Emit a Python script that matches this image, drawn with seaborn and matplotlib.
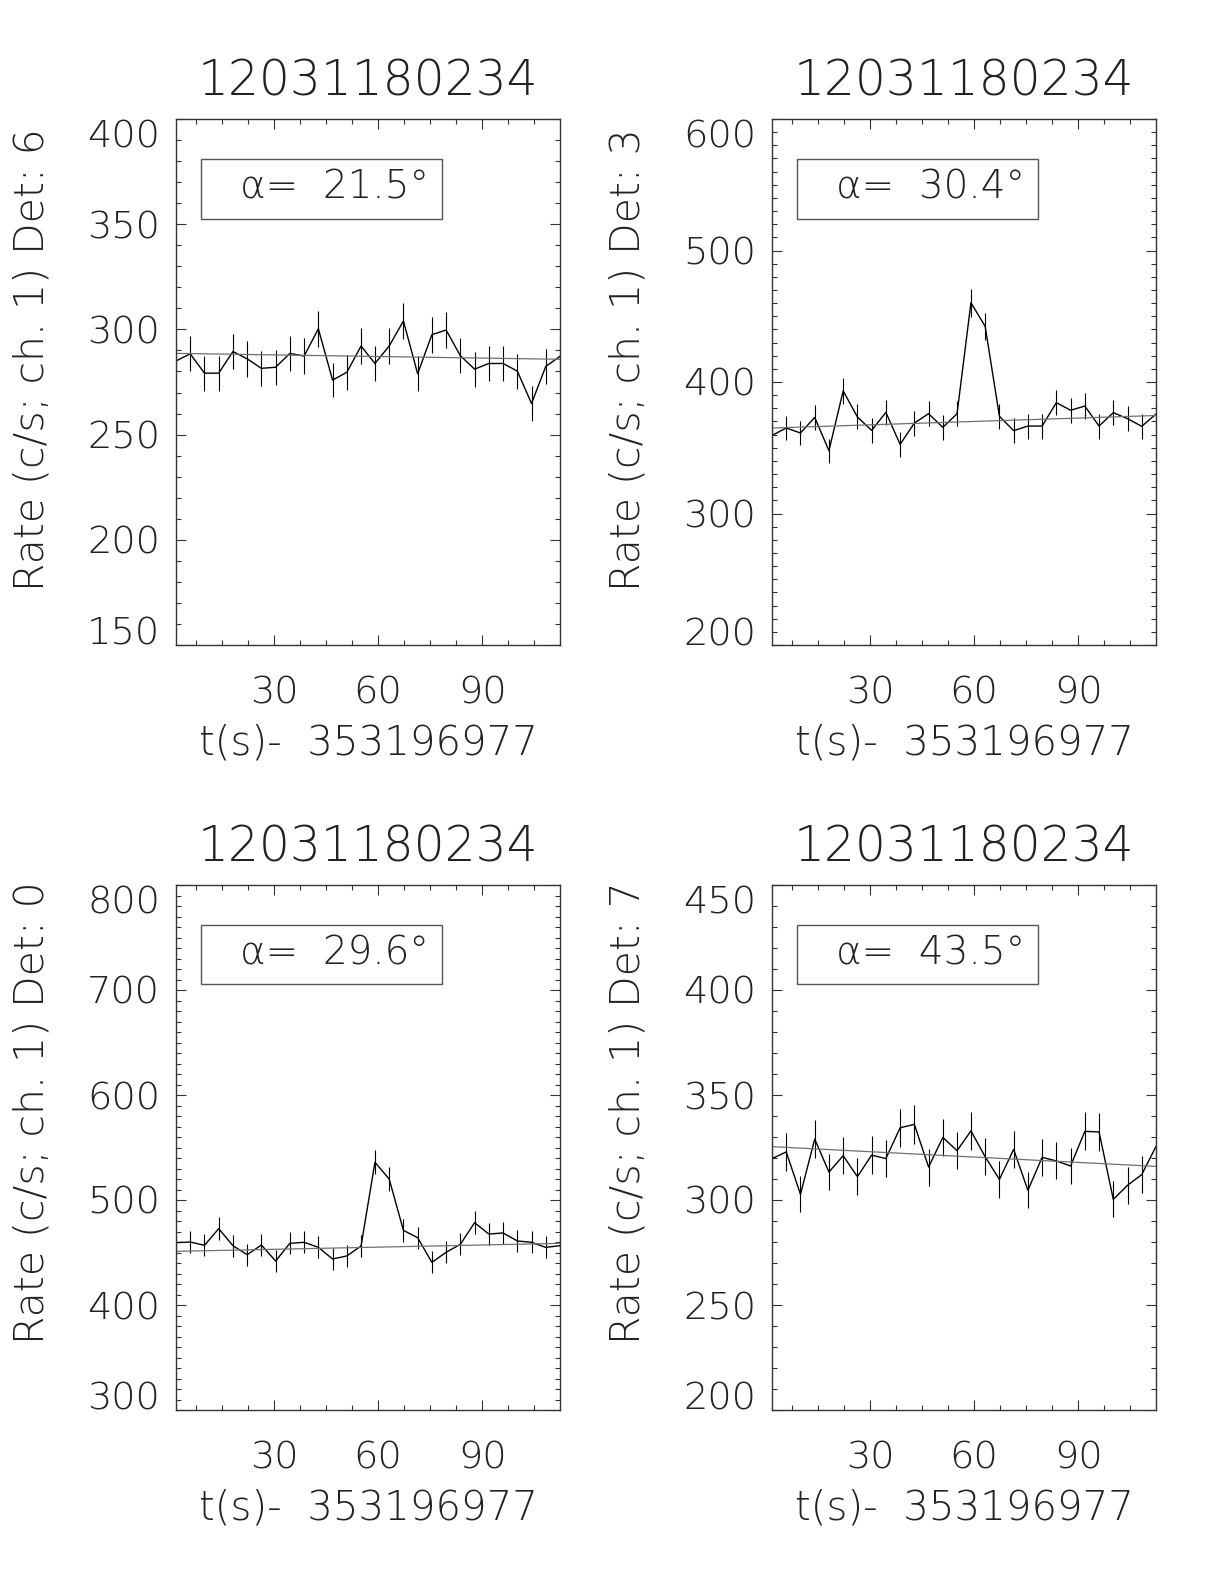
import matplotlib
matplotlib.use('Agg')
import matplotlib.pyplot as plt
import seaborn as sns
from matplotlib import font_manager as fm
from matplotlib.ticker import MultipleLocator
from matplotlib.patches import Rectangle

# tiempo (s) desde 353196977, bins de ~4.1 s
t = [1.8, 5.9, 10.0, 14.1, 18.2, 22.3, 26.4, 30.5, 34.6, 38.7, 42.8, 46.9, 51.0, 55.1,
     59.1, 63.2, 67.3, 71.4, 75.5, 79.6, 83.7, 87.8, 91.9, 96.0, 100.1, 104.2, 108.3, 112.4]
title = '12031180234'
xlabel = 't(s)-  353196977'

# detector 6
rate_d6 = [285, 288.4, 279.2, 279.2, 289.5, 286, 281.5, 282, 288.6, 287.3, 300.3, 275.9, 279.6, 292.1,
           283.8, 292.1, 304, 278.9, 297.5, 299.7, 287.5, 281.1, 283.8, 283.8, 280.2, 264.8, 282.4, 287.2]
err_d6 = [8.3, 8.4, 8.3, 8.3, 8.4, 8.4, 8.3, 8.3, 8.4, 8.4, 8.6, 8.2, 8.3, 8.5,
          8.3, 8.5, 8.6, 8.3, 8.5, 8.6, 8.4, 8.3, 8.3, 8.3, 8.3, 8.1, 8.3, 8.4]
fit_d6 = [288.6, 285.8]
alpha_d6 = 21.5

# detector 3
rate_d3 = [359.4, 365, 361.2, 373.1, 347.8, 393.2, 373.4, 363.2, 376.9, 352.6, 368.8, 375.9, 365.5, 375.9,
           460.3, 442.3, 373.9, 363, 366.5, 366.5, 384.3, 378.5, 381.7, 366.5, 376.7, 372.1, 366.3, 375.6]
err_d3 = [9.4, 9.4, 9.4, 9.5, 9.2, 9.8, 9.5, 9.4, 9.6, 9.3, 9.5, 9.6, 9.4, 9.6,
          10.6, 10.4, 9.5, 9.4, 9.5, 9.5, 9.7, 9.6, 9.6, 9.5, 9.6, 9.5, 9.5, 9.6]
fit_d3 = [365.0, 374.5]
alpha_d3 = 30.4

# detector 0
rate_d0 = [459.4, 460, 456.8, 472.7, 456.5, 447.9, 457.1, 441.9, 458.7, 459.7, 454.9, 443.8, 446.7, 456.2,
           535.9, 520, 471.1, 464.1, 440.6, 450.2, 457.8, 478.4, 467.6, 468.6, 461, 459.7, 454.9, 456.5]
err_d0 = [10.6, 10.6, 10.6, 10.7, 10.6, 10.5, 10.6, 10.4, 10.6, 10.6, 10.5, 10.4, 10.4, 10.6,
          11.4, 11.2, 10.7, 10.6, 10.4, 10.5, 10.6, 10.8, 10.7, 10.7, 10.6, 10.6, 10.5, 10.6]
fit_d0 = [451.1, 458.7]
alpha_d0 = 29.6

# detector 7
rate_d7 = [319.7, 322.9, 302.7, 329, 313.3, 321.1, 311.1, 321.4, 319.7, 334.4, 336, 315.7, 329.8, 323.5,
           332.9, 320.6, 309.8, 324.1, 304.6, 320.3, 318.6, 316.2, 332.7, 332.4, 300.3, 307, 312.1, 325.5]
err_d7 = [8.8, 8.9, 8.6, 9.0, 8.7, 8.9, 8.7, 8.9, 8.8, 9.0, 9.1, 8.8, 9.0, 8.9,
          9.0, 8.8, 8.7, 8.9, 8.6, 8.8, 8.8, 8.8, 9.0, 9.0, 8.6, 8.7, 8.7, 8.9]
fit_d7 = [325.4, 316.0]
alpha_d7 = 43.5

sns.set_theme(style='ticks')


# buscar una fuente fina parecida a la de IDL
def pick_font():
    wanted = [('DejaVu Sans', 250), ('Roboto', 300), ('Lato', 300), ('Open Sans', 300), ('Inter', 300)]
    for name, maxw in wanted:
        best = None
        for f in fm.fontManager.ttflist:
            if f.name != name or f.style != 'normal':
                continue
            w = f.weight if isinstance(f.weight, int) else fm.weight_dict.get(f.weight, 400)
            if w <= maxw and (best is None or w > best):
                best = w
        if best is not None:
            return name, best
    return 'DejaVu Sans', 400


font_name, font_w = pick_font()
plt.rcParams['font.family'] = [font_name, 'DejaVu Sans']
plt.rcParams['font.weight'] = font_w
plt.rcParams['axes.titleweight'] = font_w
plt.rcParams['axes.labelweight'] = font_w
plt.rcParams['text.color'] = '#222222'
plt.rcParams['axes.labelcolor'] = '#222222'
plt.rcParams['xtick.labelcolor'] = '#222222'
plt.rcParams['ytick.labelcolor'] = '#222222'

panels = [
    (rate_d6, err_d6, fit_d6, alpha_d6, 6, (150, 400), 50, [176, 119, 560, 645], 0.983),
    (rate_d3, err_d3, fit_d3, alpha_d3, 3, (200, 600), 100, [772, 119, 1156, 645], 0.983),
    (rate_d0, err_d0, fit_d0, alpha_d0, 0, (300, 800), 100, [176, 885, 560, 1410], 1.007),
    (rate_d7, err_d7, fit_d7, alpha_d7, 7, (200, 450), 50, [772, 885, 1156, 1410], 1.007),
]

W, H = 1224, 1584
fig = plt.figure(figsize=(W / 100, H / 100), dpi=100)
fig.patch.set_facecolor('white')

for rate, err, fit, alpha, det, ylim, step, box, ytop in panels:
    x0, y0, x1, y1 = box
    ax = fig.add_axes([x0 / W, 1 - y1 / H, (x1 - x0) / W, (y1 - y0) / H])
    ax.set_facecolor('white')

    ax.errorbar(t, rate, yerr=err, fmt='none', ecolor='black', elinewidth=0.8, capsize=0)
    sns.lineplot(x=t, y=rate, ax=ax, color='black', linewidth=1.0, sort=False)
    sns.lineplot(x=[t[0], t[-1]], y=fit, ax=ax, color='#707070', linewidth=0.9)

    ax.set_xlim(t[0], t[-1])
    ax.set_ylim(*ylim)
    ax.xaxis.set_major_locator(MultipleLocator(30))
    ax.xaxis.set_minor_locator(MultipleLocator(7.5))
    ax.yaxis.set_major_locator(MultipleLocator(step))
    ax.yaxis.set_minor_locator(MultipleLocator(10))

    for s in ax.spines.values():
        s.set_linewidth(1.0)
        s.set_color('#333333')
    ax.tick_params(which='both', direction='in', top=True, right=True, color='#333333', width=0.8)
    ax.tick_params(which='major', length=7.2)
    ax.tick_params(which='minor', length=3.6)
    ax.tick_params(axis='y', which='major', labelsize=27.5, pad=11.5)
    ax.tick_params(axis='x', which='major', labelsize=27.5, pad=22)

    ax.set_title(title, fontsize=35, pad=17, fontweight=font_w)
    ax.set_xlabel(xlabel, fontsize=29, labelpad=9, fontweight=font_w)
    ax.set_ylabel('Rate (c/s; ch. 1) Det: %d' % det, fontsize=29.5, fontweight=font_w)
    ax.yaxis.set_label_coords(-0.375, ytop)
    ax.yaxis.label.set_horizontalalignment('right')
    ax.yaxis.label.set_verticalalignment('center')

    # etiquetas extremas del eje y dentro del rango
    yt = ax.yaxis.get_major_ticks()
    fig.canvas.draw()
    labels = [tk for tk in yt if ylim[0] <= tk.get_loc() <= ylim[1]]
    labels[0].label1.set_verticalalignment('baseline')
    labels[-1].label1.set_verticalalignment('top')

    ax.add_patch(Rectangle((0.065, 0.8105), 0.629, 0.1135, transform=ax.transAxes,
                           fill=False, lw=1.0, ec='#555555'))
    ax.text(0.1667, 0.848, 'α=  %.1f°' % alpha, transform=ax.transAxes,
            fontsize=28, ha='left', va='baseline', fontweight=font_w)

fig.savefig('out.png', dpi=100, facecolor='white')
